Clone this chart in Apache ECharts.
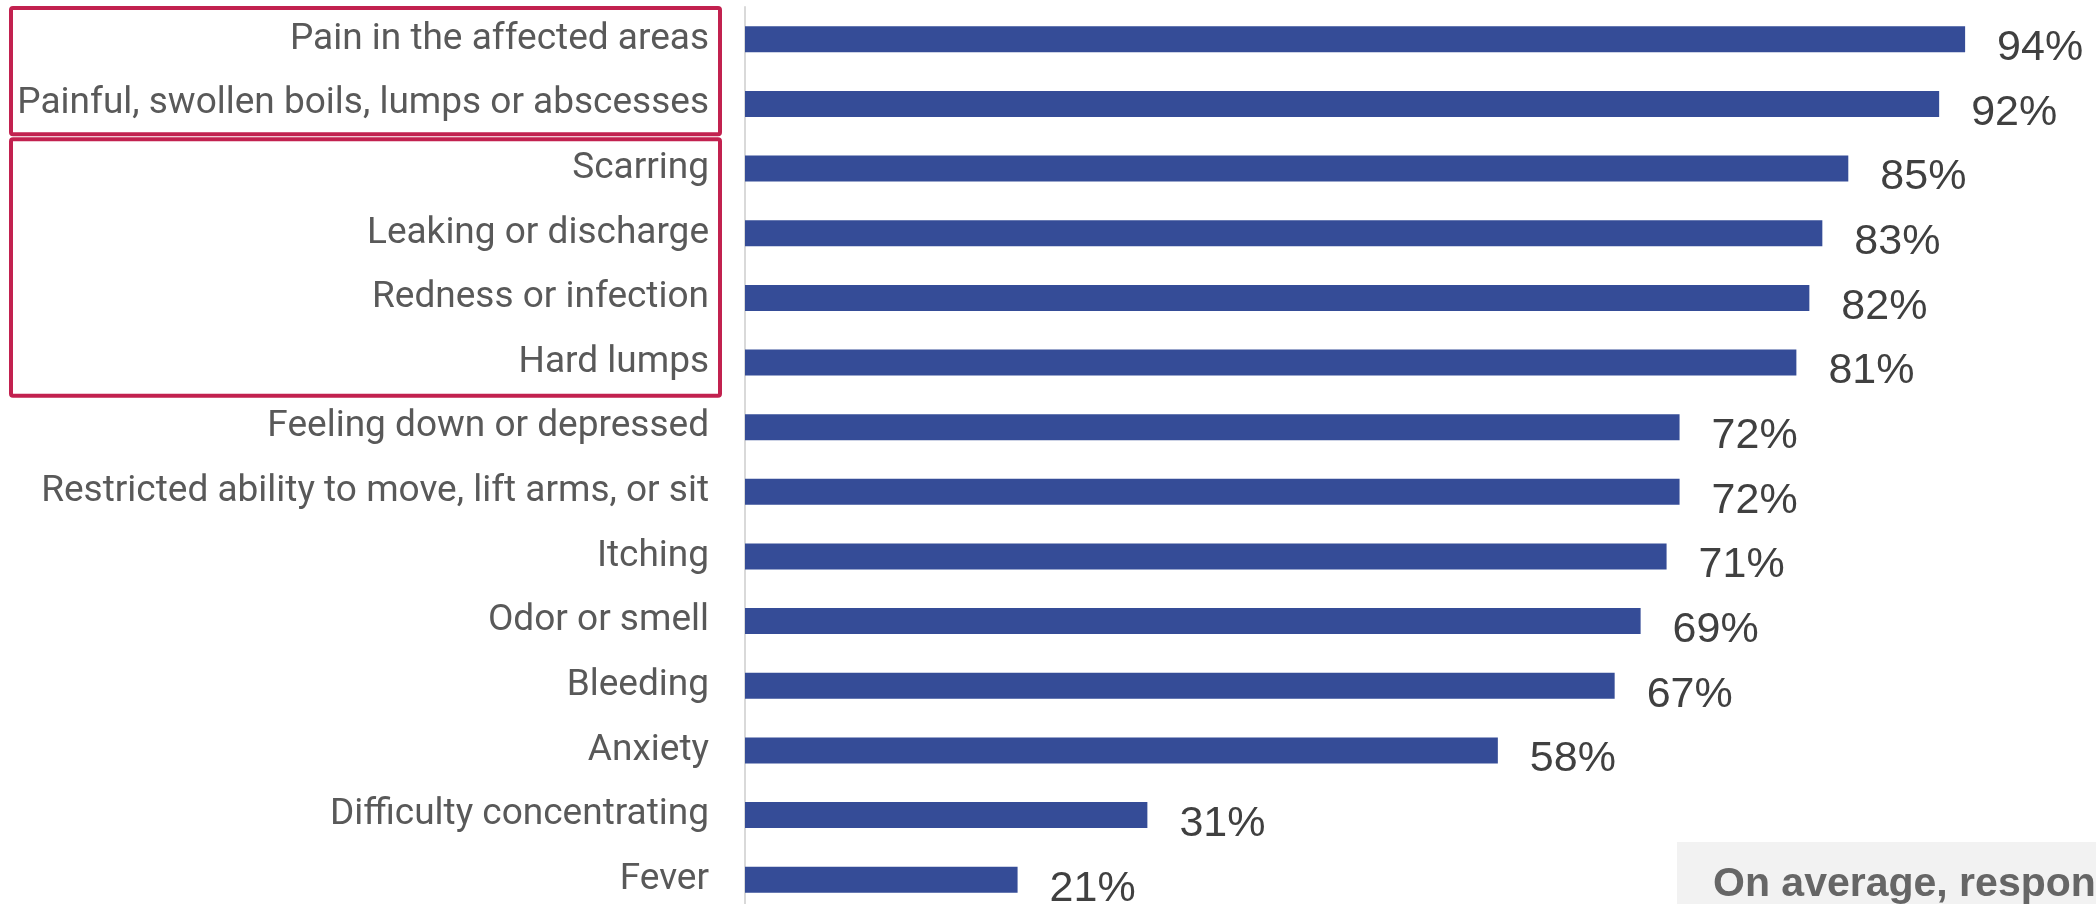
<!DOCTYPE html>
<html>
<head>
<meta charset="utf-8">
<title>Symptoms experienced</title>
<script src="https://cdn.jsdelivr.net/npm/echarts@6/dist/echarts.min.js"></script>
<style>
  html, body { margin: 0; padding: 0; background: #ffffff; }
  #chart { width: 2096px; height: 904px; }
</style>
</head>
<body>
<div id="chart"></div>
<script>
// Symptoms, listed top to bottom
const categories = [
  'Pain in the affected areas',
  'Painful, swollen boils, lumps or abscesses',
  'Scarring',
  'Leaking or discharge',
  'Redness or infection',
  'Hard lumps',
  'Feeling down or depressed',
  'Restricted ability to move, lift arms, or sit',
  'Itching',
  'Odor or smell',
  'Bleeding',
  'Anxiety',
  'Difficulty concentrating',
  'Fever'
];

// Share of respondents reporting each symptom (%)
const values = [94, 92, 85, 83, 82, 81, 72, 72, 71, 69, 67, 58, 31, 21];

// Highlighted groups of symptoms (first and last category index)
const highlightGroups = [[0, 1], [2, 5]];

const summaryText = 'On average, respondents experienced 10 symptoms';

const chart = echarts.init(document.getElementById('chart'), null, { renderer: 'canvas' });

const labelFont = '"Liberation Sans Narrow", "Arial Narrow", "Roboto", sans-serif';

chart.setOption({
  animation: false,
  backgroundColor: '#ffffff',
  grid: {
    left: 745,
    top: 7,
    width: 1298,
    height: 905,
    containLabel: false,
    outerBoundsMode: 'none'
  },
  xAxis: {
    type: 'value',
    min: 0,
    max: 100,
    show: false
  },
  yAxis: {
    type: 'category',
    inverse: true,
    data: categories,
    axisLine: { show: true, lineStyle: { color: '#d9d9d9', width: 2 } },
    axisTick: { show: false },
    splitLine: { show: false },
    axisLabel: {
      margin: 36,
      fontSize: 37,
      fontFamily: labelFont,
      color: '#595959',
      padding: [8, 0, 0, 0]
    }
  },
  series: [{
    type: 'bar',
    data: values,
    barWidth: 26,
    itemStyle: { color: '#354c97' },
    label: {
      show: true,
      position: 'right',
      distance: 32,
      offset: [0, 9],
      formatter: '{c}%',
      fontSize: 43,
      fontFamily: '"Liberation Sans", Arial, sans-serif',
      color: '#404040'
    }
  }]
});

// Frames around the highlighted symptom groups, placed from the category bands
function drawFrames() {
  const step = chart.convertToPixel({ yAxisIndex: 0 }, 1) - chart.convertToPixel({ yAxisIndex: 0 }, 0);
  const half = step / 2;
  const frames = highlightGroups.map(function (g, i) {
    const y0 = chart.convertToPixel({ yAxisIndex: 0 }, g[0]) - half;
    const y1 = chart.convertToPixel({ yAxisIndex: 0 }, g[1]) + half;
    const top = y0 + (i === 0 ? 1 : 3);
    const bottom = y1 + (i === 0 ? -2 : 1);
    return {
      type: 'rect',
      shape: { x: 11, y: top, width: 709, height: bottom - top, r: 2 },
      style: { fill: 'none', stroke: '#c2214f', lineWidth: 4 },
      z: 10
    };
  });
  frames.push({
    type: 'rect',
    shape: { x: 1677, y: 842, width: 460, height: 80 },
    style: { fill: '#f2f2f2' },
    z: 5
  });
  frames.push({
    type: 'text',
    x: 1713,
    y: 905,
    style: {
      text: summaryText,
      fill: '#666666',
      font: 'bold 41px "Liberation Sans", Arial, sans-serif',
      textVerticalAlign: 'bottom',
      verticalAlign: 'bottom'
    },
    z: 6
  });
  chart.setOption({ graphic: frames });
}
drawFrames();
</script>
</body>
</html>
